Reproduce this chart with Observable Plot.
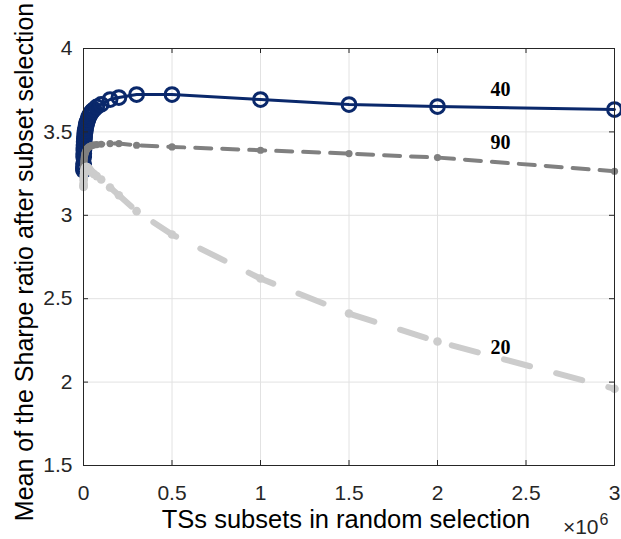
<!DOCTYPE html>
<html><head><meta charset="utf-8">
<script src="https://cdn.jsdelivr.net/npm/d3@7"></script>
<script src="https://cdn.jsdelivr.net/npm/@observablehq/plot@0.6"></script>
<style>html,body{margin:0;padding:0;background:#fff}</style>
</head><body><div id="chart"></div>
<script>
// Number of TS subsets in random selection
const xValues = [100, 200, 300, 500, 1000, 1500, 2000, 2500, 3000, 4000, 5000, 6000, 7500, 8500, 10000, 12500, 15000, 17500, 20000, 25000, 30000, 35000, 40000, 45000, 50000, 60000, 75000, 100000, 150000, 200000, 300000, 500000, 1000000, 1500000, 2000000, 3000000];
// Series "40"
const sharpe40 = [3.27, 3.28, 3.29, 3.31, 3.35, 3.37, 3.39, 3.405, 3.42, 3.44, 3.46, 3.47, 3.49, 3.50, 3.51, 3.525, 3.54, 3.55, 3.56, 3.575, 3.59, 3.60, 3.61, 3.618, 3.625, 3.635, 3.65, 3.665, 3.694, 3.706, 3.724, 3.724, 3.694, 3.664, 3.652, 3.634];
// Series "90"
const sharpe90 = [3.25, 3.255, 3.26, 3.27, 3.29, 3.30, 3.31, 3.32, 3.33, 3.34, 3.35, 3.355, 3.365, 3.37, 3.375, 3.383, 3.39, 3.395, 3.40, 3.405, 3.41, 3.412, 3.415, 3.418, 3.42, 3.422, 3.424, 3.426, 3.43, 3.43, 3.42, 3.41, 3.39, 3.37, 3.346, 3.264];
// Series "20"
const sharpe20 = [3.17, 3.175, 3.18, 3.19, 3.21, 3.22, 3.23, 3.238, 3.245, 3.255, 3.265, 3.27, 3.275, 3.28, 3.285, 3.288, 3.29, 3.29, 3.29, 3.285, 3.28, 3.273, 3.265, 3.26, 3.255, 3.247, 3.235, 3.215, 3.167, 3.12, 3.025, 2.885, 2.621, 2.411, 2.243, 1.96];

const xTicks = [0, 500000, 1000000, 1500000, 2000000, 2500000, 3000000];
const yTicks = [1.5, 2, 2.5, 3, 3.5, 4];

const seriesNames = ["40", "90", "20"];
const labelX = [2356000, 2356000, 2356000];
const labelY = [3.754, 3.433, 2.207];

const xLabel = "TSs subsets in random selection";
const yLabel = "Mean of the Sharpe ratio after subset selection";
const xExponentBase = "×10";
const xExponent = "6";

const rows = ys => xValues.map((x, i) => ({x, y: ys[i]}));
const d40 = rows(sharpe40), d90 = rows(sharpe90), d20 = rows(sharpe20);
const labels = seriesNames.map((t, i) => ({t, x: labelX[i], y: labelY[i]}));

const W = 621, H = 539, mL = 83, mR = 7, mT = 48, mB = 74;
const innerW = W - mL - mR, innerH = H - mT - mB;
const axisColor = "#262626";
const tickLen = 5;

const chart = Plot.plot({
  width: W, height: H,
  marginLeft: mL, marginRight: mR, marginTop: mT, marginBottom: mB,
  style: {fontFamily: "'Liberation Sans', Arial, Helvetica, sans-serif", fontSize: "21px", color: axisColor, background: "#fff"},
  x: {domain: [0, 3000000]},
  y: {domain: [1.5, 4]},
  marks: [
    Plot.gridX(xTicks, {stroke: "#e2e2e2", strokeOpacity: 1, strokeWidth: 1}),
    Plot.gridY(yTicks, {stroke: "#e2e2e2", strokeOpacity: 1, strokeWidth: 1}),
    Plot.axisX(xTicks, {tickSize: 0, tickPadding: 20, tickFormat: d => String(d / 1e6), fontSize: 21, label: null}),
    Plot.axisY(yTicks, {tickSize: 0, tickPadding: 11, tickFormat: d => String(d), fontSize: 21, label: null}),
    // series 40
    Plot.line(d40, {x: "x", y: "y", stroke: "#0a286b", strokeWidth: 3}),
    Plot.dot(d40, {x: "x", y: "y", r: 6.9, stroke: "#0a286b", strokeWidth: 3, fill: "none"}),
    // series 90
    Plot.line(d90, {x: "x", y: "y", stroke: "#808080", strokeWidth: 4, strokeDasharray: "16,11"}),
    Plot.dot(d90, {x: "x", y: "y", r: 3.6, fill: "#808080"}),
    // series 20
    Plot.line(d20, {x: "x", y: "y", stroke: "#cccccc", strokeWidth: 6, strokeDasharray: "27,27"}),
    Plot.dot(d20, {x: "x", y: "y", r: 4.3, fill: "#cccccc"}),
    // frame and inward ticks
    Plot.frame({stroke: axisColor, strokeWidth: 1}),
    Plot.tickX(xTicks, {x: d => d, stroke: axisColor, insetTop: innerH - tickLen}),
    Plot.tickX(xTicks, {x: d => d, stroke: axisColor, insetBottom: innerH - tickLen}),
    Plot.tickY(yTicks, {y: d => d, stroke: axisColor, insetRight: innerW - tickLen}),
    Plot.tickY(yTicks, {y: d => d, stroke: axisColor, insetLeft: innerW - tickLen}),
    // series labels
    Plot.text(labels, {x: "x", y: "y", text: "t", fontFamily: "'Liberation Serif', 'Times New Roman', serif", fontWeight: "bold", fontSize: 20, fill: "#000"}),
    // axis labels
    Plot.text([xLabel], {frameAnchor: "bottom", lineAnchor: "bottom", dy: 62, dx: -3, fontSize: 25.5, fill: "#000"}),
    Plot.text([yLabel], {frameAnchor: "left", rotate: -90, lineAnchor: "bottom", textAnchor: "middle", dx: -51, dy: 5, fontSize: 25, fill: "#000"}),
    Plot.text([xExponentBase], {frameAnchor: "bottom-right", textAnchor: "end", lineAnchor: "bottom", dx: -16, dy: 68, fontSize: 21, fill: axisColor}),
    Plot.text([xExponent], {frameAnchor: "bottom-right", textAnchor: "start", lineAnchor: "bottom", dx: -15, dy: 59, fontSize: 16, fill: axisColor})
  ]
});
document.getElementById("chart").appendChild(chart);
</script>
</body></html>
